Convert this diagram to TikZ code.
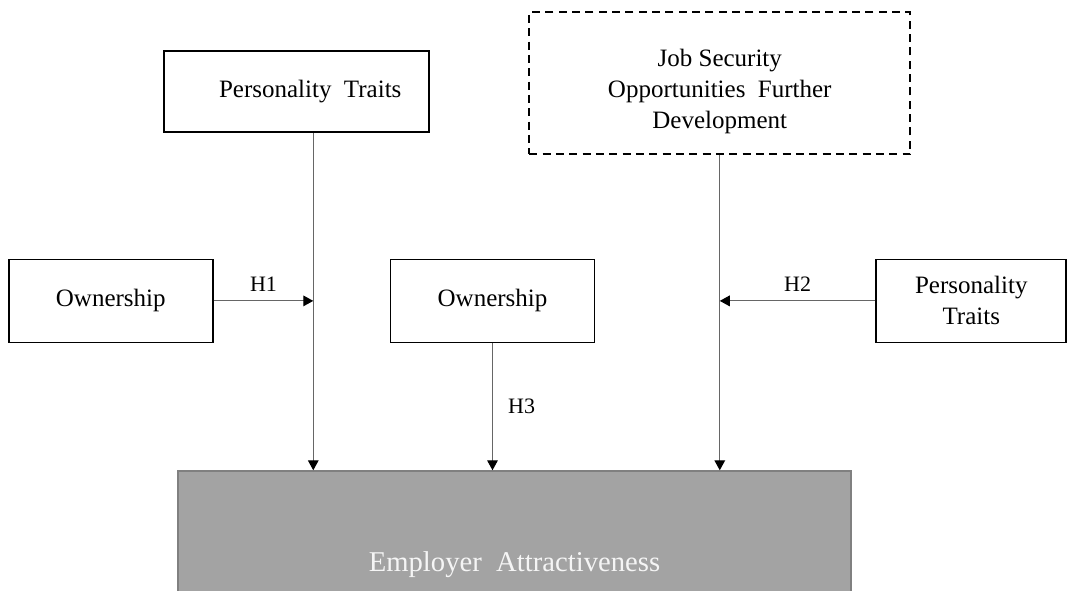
\documentclass[tikz,border=0pt]{standalone}
\usepackage{fontspec}
\setmainfont{Liberation Serif}
\usetikzlibrary{positioning,arrows.meta}

\definecolor{outcomefill}{RGB}{163,163,163}
\definecolor{outcomeline}{RGB}{128,128,128}
\definecolor{outcometext}{RGB}{245,245,245}

\begin{document}
\begin{tikzpicture}[
    x=0.75pt, y=-0.75pt,
    box/.style={rectangle, draw, line width=1.3pt, minimum width=153pt, minimum height=62.25pt, align=center, font=\fontsize{18.75}{23.25}\selectfont},
    arrow/.style={-{Triangle[length=7.5pt, width=8pt, black]}, draw=black!60, line width=0.9pt},
    hyp/.style={font=\fontsize{16.5}{19}\selectfont}
]
    \useasboundingbox (0,0) rectangle (1071,591);
    \clip (0,0) rectangle (1071,591);

    % Outcome
    \node[box, fill=outcomefill, draw=outcomeline, line width=1.1pt, text=outcometext, minimum width=504.75pt, minimum height=141pt, font=\fontsize{21.5}{25}\selectfont] (employer) at (514.5,565) {Employer~~Attractiveness};

    % Moderators and predictors
    \node[box, above=95.25pt of employer, xshift=-16.5pt] (ownMid) {Ownership};
    \node[box, left=132pt of ownMid] (ownLeft) {Ownership};
    \node[box, right=210pt of ownMid, minimum width=142.5pt] (traitsRight) {Personality\\Traits};
    \node[box, above=94pt of ownLeft, xshift=139.1pt, minimum width=198.75pt, minimum height=60.75pt] (traitsTop) {\hspace*{21pt}Personality~~Traits};
    \node[box, dashed, dash pattern=on 6pt off 4pt, above=77.5pt of traitsRight, xshift=-188.6pt, minimum width=285.75pt, minimum height=106.5pt] (jobSec) {\rule{0pt}{25.5pt}Job Security\\Opportunities~~Further\\Development};

    % Entry points on the outcome
    \coordinate (e1) at ([xshift=102pt]employer.north west);

    % Arrows
    \draw[arrow] (traitsTop.south -| e1) -- (e1);
    \draw[arrow] (ownMid.south) -- (ownMid.south |- employer.north) node[hyp, midway, right=8pt] {H3};
    \draw[arrow] (jobSec.south) -- (jobSec.south |- employer.north);
    \draw[arrow] (ownLeft.east) -- (ownLeft.east -| e1) node[hyp, midway, above=3pt] {H1};
    \draw[arrow] (traitsRight.west) -- (traitsRight.west -| jobSec.south) node[hyp, midway, above=3pt] {H2};
\end{tikzpicture}
\end{document}
